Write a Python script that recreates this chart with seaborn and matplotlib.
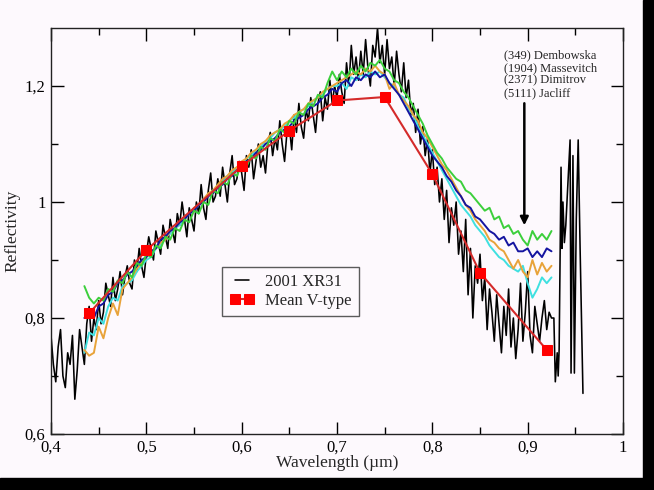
import numpy as np
import pandas as pd
import matplotlib
matplotlib.use("Agg")
import matplotlib.pyplot as plt
import matplotlib.ticker as mticker
import seaborn as sns

# ---------------- data ----------------
# 2001 XR31 spectrum, sampled every 0.0025 um starting at 0.400 um
xr31_start = 0.400
xr31_step = 0.0025
xr31_refl = [
    0.77, 0.72, 0.69, 0.75, 0.78, 0.70, 0.68, 0.74, 0.72, 0.77,
    0.66, 0.71, 0.78, 0.75, 0.72, 0.79, 0.82, 0.76, 0.80, 0.78,
    0.83, 0.79, 0.81, 0.86, 0.84, 0.82, 0.87, 0.83, 0.85, 0.88,
    0.84, 0.87, 0.89, 0.86, 0.85, 0.90, 0.88, 0.92, 0.89, 0.87,
    0.91, 0.94, 0.92, 0.90, 0.95, 0.93, 0.91, 0.96, 0.94, 0.92,
    0.97, 0.95, 0.93, 0.98, 0.96, 1.00, 0.97, 0.94, 0.99, 0.97,
    0.95, 1.00, 0.98, 1.03, 0.99, 0.97, 1.02, 1.05, 1.00, 1.01,
    1.04, 1.01, 1.06, 1.03, 1.00, 1.05, 1.08, 1.03, 1.04, 1.07,
    1.05, 1.02, 1.08, 1.06, 1.09, 1.04, 1.07, 1.10, 1.06, 1.08,
    1.05, 1.10, 1.12, 1.08, 1.11, 1.09, 1.14, 1.10, 1.07, 1.12,
    1.13, 1.09, 1.15, 1.12, 1.17, 1.13, 1.11, 1.16, 1.14, 1.18,
    1.15, 1.12, 1.17, 1.19, 1.14, 1.18, 1.16, 1.21, 1.17, 1.20,
    1.18, 1.22, 1.19, 1.17, 1.24, 1.20, 1.27, 1.22, 1.25, 1.21,
    1.26, 1.22, 1.28, 1.23, 1.20, 1.27, 1.25, 1.30, 1.24, 1.27,
    1.22, 1.28, 1.23, 1.25, 1.20, 1.26, 1.22, 1.19, 1.24, 1.18,
    1.21, 1.15, 1.17, 1.12, 1.16, 1.10, 1.13, 1.08, 1.11, 1.05,
    1.09, 1.03, 1.06, 1.00, 1.04, 0.97, 1.02, 0.93, 0.99, 0.96,
    1.00, 0.91, 0.95, 0.88, 0.97, 0.84, 0.92, 0.80, 0.89, 0.86,
    0.91, 0.83, 0.87, 0.78, 0.85, 0.81, 0.76, 0.84, 0.79, 0.74,
    0.82, 0.77, 0.85, 0.75, 0.80, 0.73, 0.78, 0.86, 0.76, 0.81,
    0.88, 0.77, 0.74, 0.82, 0.79, 0.76, 0.80, 0.83, 0.78, 0.81,
    0.80,
]
# noisy red end of the 2001 XR31 spectrum
xr31_tail_wl = [0.9275, 0.929, 0.931, 0.932, 0.933, 0.935, 0.936, 0.937, 0.9385,
                0.940, 0.9445, 0.9455, 0.9475, 0.949, 0.951, 0.953, 0.955, 0.958]
xr31_tail_refl = [0.80, 0.69, 0.74, 0.70, 0.745, 1.06, 0.92, 1.00, 0.93,
                  0.96, 1.107, 0.705, 1.08, 0.705, 0.97, 1.107, 0.92, 0.67]

# V-type asteroid spectra, sampled every 0.005 um from 0.435 um
vtype_start = 0.435
vtype_step = 0.005
dembowska = [  # green
    0.855, 0.835, 0.825, 0.835, 0.830, 0.850, 0.845, 0.865, 0.860, 0.880,
    0.870, 0.895, 0.890, 0.910, 0.905, 0.925, 0.920, 0.940, 0.935, 0.955,
    0.950, 0.970, 0.965, 0.985, 0.980, 1.000, 0.995, 1.020, 1.015, 1.035,
    1.030, 1.050, 1.045, 1.065, 1.060, 1.080, 1.075, 1.095, 1.090, 1.110,
    1.105, 1.125, 1.120, 1.140, 1.135, 1.155, 1.150, 1.170, 1.165, 1.185,
    1.180, 1.205, 1.225, 1.210, 1.225, 1.215, 1.230, 1.220, 1.235, 1.225,
    1.240, 1.235, 1.245, 1.230, 1.225, 1.210, 1.205, 1.190, 1.180, 1.165,
    1.150, 1.135, 1.115, 1.100, 1.085, 1.075, 1.060, 1.050, 1.040, 1.035,
    1.020, 1.015, 1.005, 0.995, 0.985, 0.990, 0.970, 0.975, 0.955, 0.960,
    0.945, 0.950, 0.935, 0.925, 0.950, 0.935, 0.945, 0.935, 0.950,
]
massevitch = [  # dark blue
    0.800, 0.810, 0.800, 0.820, 0.825, 0.840, 0.845, 0.860, 0.865, 0.875,
    0.880, 0.890, 0.900, 0.905, 0.915, 0.920, 0.935, 0.940, 0.950, 0.955,
    0.965, 0.970, 0.980, 0.985, 0.995, 1.000, 1.010, 1.015, 1.025, 1.030,
    1.040, 1.045, 1.055, 1.060, 1.070, 1.075, 1.085, 1.090, 1.100, 1.105,
    1.110, 1.120, 1.125, 1.130, 1.140, 1.145, 1.150, 1.160, 1.165, 1.170,
    1.180, 1.185, 1.195, 1.190, 1.205, 1.210, 1.200, 1.215, 1.210, 1.220,
    1.215, 1.225, 1.215, 1.220, 1.205, 1.195, 1.185, 1.170, 1.155, 1.140,
    1.125, 1.110, 1.095, 1.080, 1.070, 1.060, 1.045, 1.035, 1.020, 1.010,
    0.995, 0.990, 0.975, 0.970, 0.960, 0.950, 0.945, 0.935, 0.940, 0.925,
    0.930, 0.915, 0.915, 0.920, 0.905, 0.915, 0.905, 0.920, 0.915,
]
dimitrov = [  # orange
    0.745, 0.735, 0.740, 0.785, 0.765, 0.800, 0.825, 0.805, 0.850, 0.860,
    0.870, 0.885, 0.895, 0.905, 0.915, 0.920, 0.930, 0.935, 0.950, 0.955,
    0.965, 0.975, 0.980, 0.990, 0.995, 1.005, 1.015, 1.020, 1.030, 1.040,
    1.045, 1.055, 1.060, 1.070, 1.075, 1.085, 1.090, 1.100, 1.105, 1.115,
    1.120, 1.125, 1.135, 1.140, 1.150, 1.155, 1.160, 1.170, 1.175, 1.180,
    1.190, 1.195, 1.200, 1.205, 1.210, 1.215, 1.220, 1.225, 1.220, 1.230,
    1.225, 1.235, 1.225, 1.220, 1.195, 1.205, 1.185, 1.175, 1.165, 1.150,
    1.140, 1.120, 1.110, 1.095, 1.080, 1.065, 1.055, 1.040, 1.025, 1.010,
    0.995, 0.985, 0.970, 0.960, 0.950, 0.935, 0.930, 0.920, 0.915, 0.900,
    0.885, 0.900, 0.880, 0.870, 0.900, 0.875, 0.895, 0.880, 0.890,
]
jacliff = [  # cyan
    0.740, 0.775, 0.770, 0.800, 0.790, 0.820, 0.835, 0.830, 0.855, 0.860,
    0.865, 0.880, 0.890, 0.900, 0.905, 0.920, 0.925, 0.940, 0.945, 0.955,
    0.960, 0.970, 0.980, 0.985, 0.995, 1.005, 1.010, 1.020, 1.025, 1.035,
    1.045, 1.050, 1.060, 1.065, 1.075, 1.080, 1.090, 1.095, 1.105, 1.110,
    1.120, 1.125, 1.130, 1.140, 1.145, 1.155, 1.160, 1.165, 1.175, 1.180,
    1.185, 1.195, 1.200, 1.200, 1.205, 1.195, 1.215, 1.210, 1.220, 1.215,
    1.225, 1.220, 1.225, 1.215, 1.205, 1.200, 1.185, 1.180, 1.160, 1.150,
    1.130, 1.115, 1.100, 1.085, 1.070, 1.055, 1.040, 1.025, 1.010, 0.995,
    0.985, 0.975, 0.960, 0.950, 0.940, 0.925, 0.915, 0.905, 0.900, 0.890,
    0.885, 0.880, 0.890, 0.860, 0.835, 0.850, 0.870, 0.860, 0.870,
]

# Mean V-type spectrum
mean_wl = [0.44, 0.50, 0.60, 0.65, 0.70, 0.75, 0.80, 0.85, 0.92]
mean_refl = [0.808, 0.917, 1.062, 1.123, 1.175, 1.181, 1.048, 0.878, 0.745]

asteroid_names = ["(349) Dembowska", "(1904) Massevitch", "(2371) Dimitrov", "(5111) Jacliff"]
vtype_colors = ["#3ccf3c", "#1414a0", "#e8a33a", "#3fe0e0"]

# ---------------- build tables ----------------
n_x = len(xr31_refl)
xr31_wl = list(xr31_start + xr31_step * np.arange(n_x)) + xr31_tail_wl
df_xr31 = pd.DataFrame({"wl": xr31_wl, "refl": xr31_refl + xr31_tail_refl})

n_v = len(dembowska)
v_wl = vtype_start + vtype_step * np.arange(n_v)
df_v = {name: pd.DataFrame({"wl": v_wl, "refl": vals})
        for name, vals in zip(asteroid_names, [dembowska, massevitch, dimitrov, jacliff])}
df_mean = pd.DataFrame({"wl": mean_wl, "refl": mean_refl})

# ---------------- plot ----------------
sns.set_style("ticks")
plt.rcParams["font.family"] = ["Liberation Serif", "DejaVu Serif"]

bg = "#fdf9fd"
fig = plt.figure(figsize=(6.54, 4.90), dpi=100, facecolor=bg)
ax = fig.add_axes([51 / 654, 1 - 434 / 490, 572 / 654, 406 / 490])
ax.set_facecolor(bg)

sns.lineplot(data=df_xr31, x="wl", y="refl", ax=ax, color="black", lw=1.15,
             sort=False, estimator=None, label="2001 XR31", zorder=2)
order = [3, 2, 1, 0]
for i in order:
    name = asteroid_names[i]
    sns.lineplot(data=df_v[name], x="wl", y="refl", ax=ax, color=vtype_colors[i],
                 lw=1.4, sort=False, estimator=None, zorder=3, legend=False)
sns.lineplot(data=df_mean, x="wl", y="refl", ax=ax, color="#d42a2a", lw=1.5,
             marker="s", markersize=7, markerfacecolor="#ff0000",
             markeredgecolor="#ff0000", sort=False, estimator=None,
             label="Mean V-type", zorder=5)

ax.set_xlim(0.4, 1.0)
ax.set_ylim(0.6, 1.3)

def comma_fmt(v, pos):
    s = f"{v:.1f}"
    if s.endswith(".0"):
        s = s[:-2]
    return s.replace(".", ",")

ax.xaxis.set_major_locator(mticker.MultipleLocator(0.1))
ax.xaxis.set_minor_locator(mticker.MultipleLocator(0.05))
ax.yaxis.set_major_locator(mticker.FixedLocator([0.6, 0.8, 1.0, 1.2]))
ax.yaxis.set_minor_locator(mticker.FixedLocator([0.7, 0.9, 1.1]))
ax.xaxis.set_major_formatter(mticker.FuncFormatter(comma_fmt))
ax.yaxis.set_major_formatter(mticker.FuncFormatter(comma_fmt))
ax.tick_params(which="both", direction="in", top=True, right=True,
               labelsize=12, colors="black", width=1.0)
ax.tick_params(which="major", length=9, pad=4)
ax.tick_params(which="minor", length=5)
for sp in ax.spines.values():
    sp.set_color("#222222")
    sp.set_linewidth(1.0)
    sp.set_visible(True)

ax.set_xlabel("Wavelength (µm)", fontsize=12.5)
ax.set_ylabel("Reflectivity", fontsize=12.5)
ax.xaxis.set_label_coords(0.5, -0.052)
ax.yaxis.set_label_coords(-0.053, 0.5)

leg = ax.legend(loc="lower left", bbox_to_anchor=(0.299, 0.29), borderaxespad=0,
                fontsize=12, frameon=True, fancybox=False, shadow=False,
                handlelength=1.45, numpoints=2, borderpad=0.45, labelspacing=0.15,
                handletextpad=0.7)
leg.get_frame().set_edgecolor("#333333")
leg.get_frame().set_linewidth(1.0)
leg.get_frame().set_facecolor(bg)

ax.text(0.875, 1.263, "\n".join(asteroid_names), fontsize=9, va="top", ha="left",
        linespacing=1.05)
ax.annotate("", xy=(0.8965, 0.955), xytext=(0.8965, 1.175),
            arrowprops=dict(arrowstyle="-|>", color="black", lw=1.8,
                            mutation_scale=12))

# black frame strips of the original screen capture
fig.patches.append(plt.Rectangle((643 / 654, 0), 1, 1, transform=fig.transFigure,
                                 color="black", zorder=-1))
fig.patches.append(plt.Rectangle((0, 0), 1, 12 / 490, transform=fig.transFigure,
                                 color="black", zorder=-1))

fig.savefig("out.png", dpi=100, facecolor=bg)
